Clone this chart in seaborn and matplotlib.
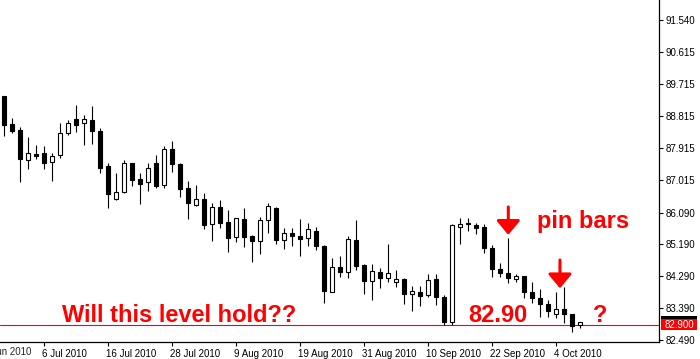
"""Daily candles with support level annotation (MT4 style)."""

import matplotlib

matplotlib.use("Agg")
import matplotlib.pyplot as plt
import matplotlib.transforms as mtransforms
import numpy as np
import pandas as pd
import seaborn as sns
from matplotlib.patches import Rectangle

# daily bars, 29 Jun 2010 - 7 Oct 2010
opens = [89.38, 88.59, 88.42, 87.57, 87.75, 87.77, 87.51, 87.71, 88.33, 88.73,
         88.61, 88.71, 88.40, 87.41, 86.48, 86.68, 87.48, 87.04, 86.95, 87.48,
         86.86, 87.88, 87.47, 86.78, 86.30, 86.47, 85.76, 86.24, 85.82, 85.41,
         85.91, 85.43, 85.30, 85.87, 86.23, 85.31, 85.52, 85.42, 85.36, 85.57,
         85.15, 83.85, 84.55, 84.42, 85.31, 84.61, 84.17, 84.41, 84.25, 84.14,
         84.21, 83.80, 83.84, 83.76, 84.21, 83.71, 83.01, 85.69, 85.79, 85.74,
         85.69, 85.08, 84.49, 84.37, 84.22, 84.29, 83.84, 83.69, 83.50, 83.23,
         83.37, 83.22, 82.91]
highs = [89.38, 88.76, 88.51, 88.23, 88.00, 87.97, 87.77, 88.62, 88.71, 89.13,
         88.84, 89.10, 88.47, 87.48, 87.21, 87.57, 87.48, 87.20, 87.48, 87.71,
         87.96, 88.10, 87.49, 86.99, 86.87, 86.64, 86.36, 86.45, 86.16, 85.93,
         86.22, 85.46, 85.96, 86.35, 86.25, 85.65, 85.65, 85.91, 85.80, 85.68,
         85.17, 84.81, 84.86, 85.43, 85.88, 84.64, 84.64, 84.52, 85.20, 84.47,
         84.24, 84.02, 84.02, 84.36, 84.36, 83.77, 85.77, 85.94, 85.94, 85.79,
         85.77, 85.17, 84.67, 85.36, 84.35, 84.29, 84.12, 83.93, 83.62, 83.85,
         84.00, 83.22, 82.99]
lows = [88.26, 88.33, 86.95, 87.31, 87.61, 87.32, 86.99, 87.64, 88.29, 88.38,
        88.01, 88.04, 87.22, 86.23, 86.45, 86.65, 86.85, 86.32, 86.71, 86.79,
        86.79, 87.25, 86.54, 85.91, 86.28, 85.63, 85.30, 85.66, 84.99, 85.27,
        85.13, 84.70, 84.91, 85.52, 85.19, 85.07, 85.15, 84.87, 85.15, 85.04,
        83.54, 83.85, 84.28, 84.25, 84.47, 83.79, 83.62, 83.97, 84.14, 84.00,
        83.50, 83.32, 83.46, 83.71, 83.47, 82.91, 82.91, 85.21, 85.58, 85.49,
        84.96, 84.26, 84.26, 84.11, 84.14, 83.67, 83.54, 83.15, 83.15, 83.12,
        82.96, 82.72, 82.84]
closes = [88.57, 88.40, 87.60, 87.77, 87.70, 87.50, 87.68, 88.34, 88.62, 88.57,
          88.73, 88.39, 87.36, 86.62, 86.66, 87.48, 87.02, 86.91, 87.34, 86.84,
          87.88, 87.45, 86.77, 86.37, 86.47, 85.75, 86.24, 85.80, 85.36, 85.93,
          85.41, 85.30, 85.88, 86.28, 85.32, 85.51, 85.44, 85.35, 85.63, 85.14,
          83.88, 84.54, 84.42, 85.34, 84.58, 84.17, 84.44, 84.25, 84.37, 84.21,
          83.80, 83.87, 83.74, 84.18, 83.70, 83.01, 85.74, 85.77, 85.76, 85.66,
          85.08, 84.49, 84.37, 84.25, 84.29, 83.85, 83.69, 83.52, 83.30, 83.37,
          83.22, 82.89, 82.99]

date_ticks = ["2010-06-24", "2010-07-06", "2010-07-16", "2010-07-28", "2010-08-09",
              "2010-08-19", "2010-08-31", "2010-09-10", "2010-09-22", "2010-10-04"]
date_labels = ["24 Jun 2010", "6 Jul 2010", "16 Jul 2010", "28 Jul 2010", "9 Aug 2010",
               "19 Aug 2010", "31 Aug 2010", "10 Sep 2010", "22 Sep 2010", "4 Oct 2010"]
price_ticks = [91.540, 90.615, 89.715, 88.815, 87.915, 87.015, 86.090, 85.190,
               84.290, 83.390, 82.490]
level = 82.90

sns.set_theme(style="white")
plt.rcParams["font.family"] = ["Liberation Sans", "DejaVu Sans"]

dates = pd.bdate_range("2010-06-29", "2010-10-07")
df = pd.DataFrame({"date": dates, "open": opens, "high": highs, "low": lows, "close": closes})
df["pos"] = np.arange(len(df))
df["up"] = df["close"] >= df["open"]
df["body_low"] = df[["open", "close"]].min(axis=1)
df["body_h"] = (df["close"] - df["open"]).abs()

fig = plt.figure(figsize=(7, 3.59), dpi=100)
ax = fig.add_axes([0, 17 / 359, 659 / 700, 342 / 359])
ax.set_facecolor("white")

ax.vlines(df["pos"], df["low"], df["high"], color="black", lw=0.8, zorder=2)
ax.bar(df["pos"], df["body_h"], bottom=df["body_low"], width=0.5,
       color=np.where(df["up"], "white", "black"), edgecolor="black", lw=0.8, zorder=3)

ax.axhline(level, color="red", lw=0.8, zorder=1)

ax.set_xlim(-0.54, 81.84)
ax.set_ylim(82.433, 92.097)

for side in ["left", "top"]:
    ax.spines[side].set_visible(False)
for side in ["right", "bottom"]:
    ax.spines[side].set_color("black")
    ax.spines[side].set_linewidth(0.9)

# right price scale
ax.yaxis.tick_right()
ax.set_yticks(price_ticks)
ax.set_yticklabels([f"{v:.3f}" for v in price_ticks])
ax.tick_params(axis="y", right=True, direction="out", length=3, width=0.8,
               pad=2, labelsize=7, colors="black")

# date scale, labels start at tick
tick_pos = [int(np.busday_count(dates[0].date(), pd.Timestamp(d).date())) for d in date_ticks]
visible = [(p, lab) for p, lab in zip(tick_pos, date_labels) if p >= 0]
ax.set_xticks([p for p, _ in visible])
ax.set_xticklabels([lab for _, lab in visible])
ax.tick_params(axis="x", bottom=True, direction="out", length=3, width=0.8,
               pad=2, labelsize=7, colors="black")
shift = mtransforms.ScaledTranslation(-2 / 100, 0, fig.dpi_scale_trans)
for lab in ax.get_xticklabels():
    lab.set_horizontalalignment("left")
    lab.set_transform(lab.get_transform() + shift)
for p, lab in zip(tick_pos, date_labels):
    if p < 0:
        ax.text(p, 0, lab, transform=ax.get_xaxis_transform() + shift,
                ha="left", va="top", fontsize=7, clip_on=False)
        ax.texts[-1].set_transform(ax.get_xaxis_transform()
                                   + mtransforms.ScaledTranslation(-2 / 100, -5 / 100, fig.dpi_scale_trans))

# current price tag
yx = mtransforms.blended_transform_factory(ax.transAxes, ax.transData)
ax.add_patch(Rectangle((1.003, level + 0.175), 0.055, 0.1, transform=yx,
                       color="black", clip_on=False, lw=0))
ax.add_patch(Rectangle((1.003, level - 0.13), 0.055, 0.305, transform=yx,
                       color="red", clip_on=False, lw=0))
ax.text(1.0305, level + 0.02, f"{level:.3f}", transform=yx, color="white",
        fontsize=7, ha="center", va="center", clip_on=False)

# annotations
note = dict(color="red", fontsize=17, fontweight="bold", va="baseline", ha="left")
ax.text(7.2, 83.0, "Will this level hold??", **note)
ax.text(57.96, 83.01, f"{level:.2f}", **note)
ax.text(66.6, 85.65, "pin bars", **note)
ax.text(73.6, 83.0, "?", **note)

arrow = dict(arrowstyle="-|>,head_length=0.6,head_width=0.5", color="red",
             lw=2.2, mutation_scale=14.4, shrinkA=0, shrinkB=0)
ax.annotate("", xy=(63, 85.46), xytext=(63, 86.25), arrowprops=arrow)
ax.annotate("", xy=(69.46, 83.95), xytext=(69.46, 84.75), arrowprops=arrow)

fig.savefig("out.png", dpi=100)
plt.close(fig)
